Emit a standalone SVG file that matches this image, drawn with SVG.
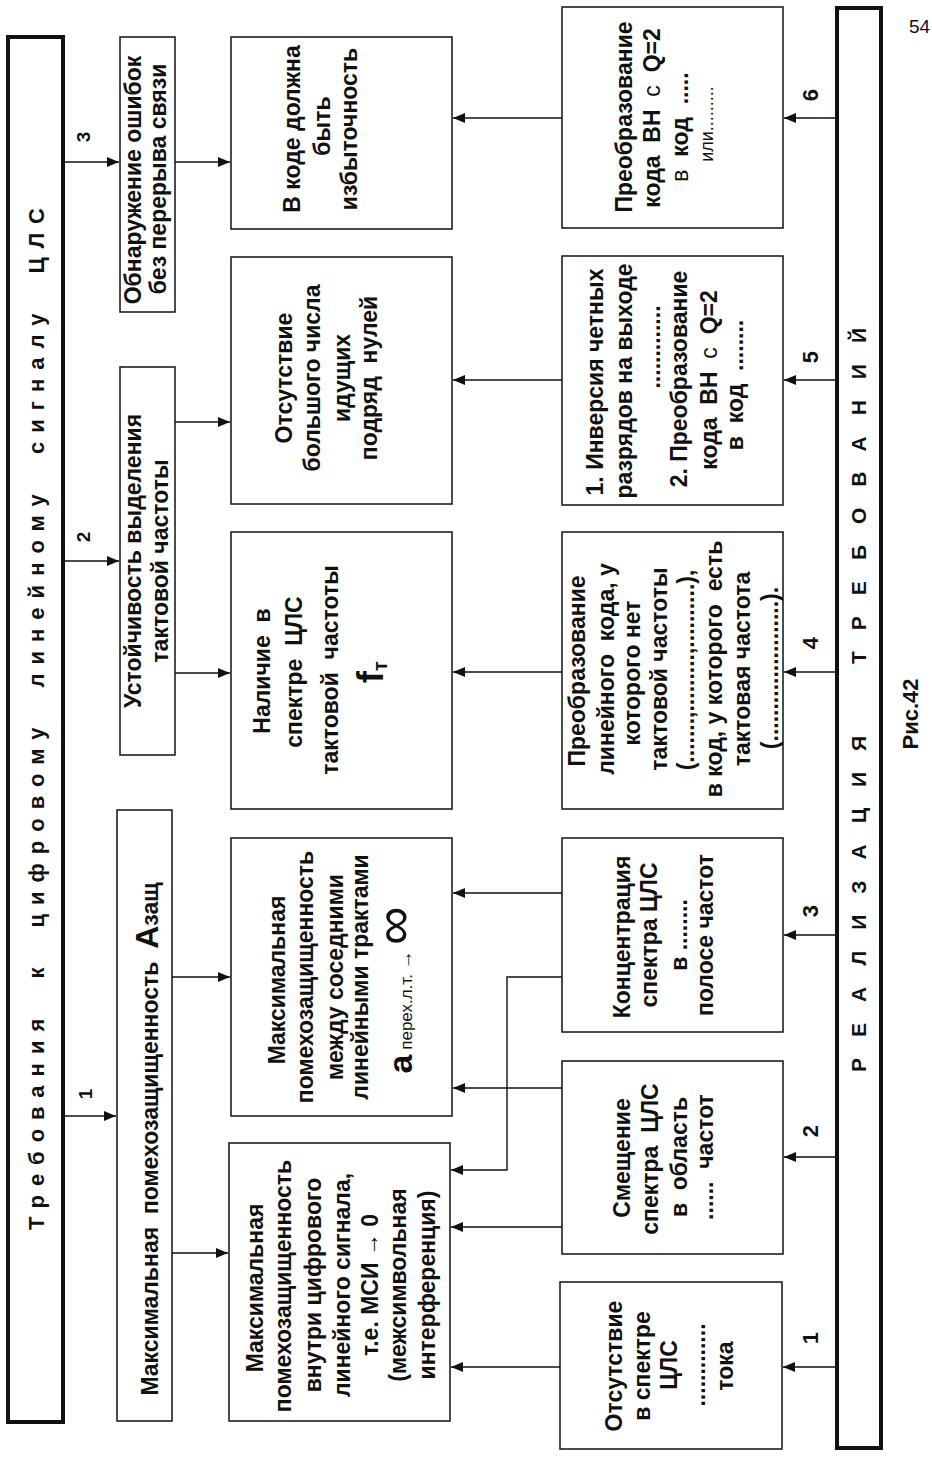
<svg xmlns="http://www.w3.org/2000/svg" width="932" height="1460" viewBox="0 0 932 1460">
<defs>
<marker id="ah" markerUnits="userSpaceOnUse" markerWidth="13" markerHeight="10" refX="12" refY="5" orient="auto">
<path d="M0,0 L12,5 L0,10 z" fill="#111"/>
</marker>
<style>
.box{fill:#fff;stroke:#111;stroke-width:1.5}
.ban{fill:#fff;stroke:#111;stroke-width:4}
.t{font-family:"Liberation Sans",Arial,sans-serif;font-size:23px;font-weight:bold;fill:#111;text-anchor:middle;white-space:pre}
.r{font-weight:normal}
.n{font-family:"Liberation Sans",Arial,sans-serif;font-size:19px;font-weight:bold;fill:#111;text-anchor:middle}
.m{font-size:22px}
.c{fill:none;stroke:#111;stroke-width:1.4;marker-end:url(#ah)}
</style>
</defs>
<rect width="932" height="1460" fill="#fff"/>

<g id="connectors">
<line class="c" x1="63" y1="162" x2="119" y2="162"/>
<line class="c" x1="63" y1="561" x2="119" y2="561"/>
<line class="c" x1="63" y1="1116" x2="116" y2="1116"/>
<line class="c" x1="175" y1="162" x2="230" y2="162"/>
<line class="c" x1="175" y1="422" x2="230" y2="422"/>
<line class="c" x1="175" y1="673" x2="230" y2="673"/>
<line class="c" x1="172" y1="977" x2="230" y2="977"/>
<line class="c" x1="172" y1="1253" x2="228" y2="1253"/>
<line class="c" x1="562" y1="118" x2="453" y2="118"/>
<line class="c" x1="562" y1="380" x2="453" y2="380"/>
<line class="c" x1="562" y1="672" x2="453" y2="672"/>
<line class="c" x1="562" y1="893" x2="453" y2="893"/>
<polyline class="c" points="562,977 507,977 507,1170 451,1170"/>
<line class="c" x1="562" y1="1088" x2="453" y2="1088"/>
<line class="c" x1="562" y1="1227" x2="451" y2="1227"/>
<line class="c" x1="560" y1="1367" x2="451" y2="1367"/>
<line class="c" x1="837" y1="118" x2="784" y2="118"/>
<line class="c" x1="837" y1="380" x2="784" y2="380"/>
<line class="c" x1="837" y1="672" x2="784" y2="672"/>
<line class="c" x1="837" y1="935" x2="784" y2="935"/>
<line class="c" x1="837" y1="1157" x2="784" y2="1157"/>
<line class="c" x1="837" y1="1367" x2="783" y2="1367"/>
<g transform="rotate(-90)">
<text class="n" x="-137" y="90">3</text>
<text class="n" x="-537" y="90">2</text>
<text class="n" x="-1094" y="92">1</text>
<text class="n m" x="-95" y="818">6</text>
<text class="n m" x="-357" y="818">5</text>
<text class="n m" x="-643" y="818">4</text>
<text class="n m" x="-911" y="818">3</text>
<text class="n m" x="-1131" y="818">2</text>
<text class="n m" x="-1338" y="818">1</text>
</g>
</g>

<g id="banner-top">
<rect class="ban" x="8" y="37" width="55" height="1385"/>
<g transform="rotate(-90)">
<text class="t" x="-719" y="44" style="font-size:22px;word-spacing:16px" textLength="1022" lengthAdjust="spacing">Требования к цифровому линейному сигналу ЦЛС</text>
</g>
</g>

<g id="req3">
<rect class="box" x="120" y="37" width="55" height="275"/>
<g transform="rotate(-90)">
<text class="t" x="-180" y="141">Обнаружение ошибок</text>
<text class="t" x="-179" y="166">без перерыва связи</text>
</g>
</g>

<g id="req2">
<rect class="box" x="120" y="367" width="55" height="388"/>
<g transform="rotate(-90)">
<text class="t" x="-561" y="141">Устойчивость выделения</text>
<text class="t" x="-561" y="168">тактовой частоты</text>
</g>
</g>

<g id="req1">
<rect class="box" x="117" y="810" width="55" height="611"/>
<g transform="rotate(-90)">
<text class="t" x="-1139" y="158">Максимальная  помехозащищенность  <tspan style="font-size:32px">А</tspan>защ</text>
</g>
</g>

<g id="cond-redund">
<rect class="box" x="231" y="37" width="221" height="192"/>
<g transform="rotate(-90)">
<text class="t" x="-129" y="300">В коде должна</text>
<text class="t" x="-126" y="330">быть</text>
<text class="t" x="-129" y="357">избыточность</text>
</g>
</g>

<g id="cond-zeros">
<rect class="box" x="231" y="257" width="221" height="247"/>
<g transform="rotate(-90)">
<text class="t" x="-378" y="292">Отсутствие</text>
<text class="t" x="-378" y="320">большого числа</text>
<text class="t" x="-378" y="350">идущих</text>
<text class="t" x="-378" y="377">подряд  нулей</text>
</g>
</g>

<g id="cond-clock">
<rect class="box" x="231" y="532" width="221" height="277"/>
<g transform="rotate(-90)">
<text class="t" x="-671" y="270">Наличие  в</text>
<text class="t" x="-672" y="302">спектре  ЦЛС</text>
<text class="t" x="-670" y="338">тактовой  частоты</text>
<text class="t" x="-672" y="383"><tspan style="font-size:36px">f</tspan><tspan style="font-size:20px" dy="4">т</tspan></text>
</g>
</g>

<g id="cond-crosstalk">
<rect class="box" x="231" y="838" width="221" height="278"/>
<g transform="rotate(-90)">
<text class="t" x="-980" y="285">Максимальная</text>
<text class="t" x="-977" y="313">помехозащищенность</text>
<text class="t" x="-977" y="343">между соседними</text>
<text class="t" x="-977" y="368">линейными трактами</text>
<text class="t" x="-990" y="412"><tspan style="font-size:34px">а</tspan><tspan class="r" style="font-size:17px"> перех.л.т. </tspan><tspan class="r" style="font-size:19px">→ </tspan><tspan class="r" style="font-size:54px">∞</tspan></text>
</g>
</g>

<g id="cond-isi">
<rect class="box" x="229" y="1143" width="221" height="278"/>
<g transform="rotate(-90)">
<text class="t" x="-1288" y="263">Максимальная</text>
<text class="t" x="-1286" y="291">помехозащищенность</text>
<text class="t" x="-1285" y="321">внутри цифрового</text>
<text class="t" x="-1285" y="350">линейного сигнала,</text>
<text class="t" x="-1285" y="378">т.е. МСИ → 0</text>
<text class="t" x="-1285" y="406">(межсимвольная</text>
<text class="t" x="-1285" y="435">интерференция)</text>
</g>
</g>

<g id="impl6">
<rect class="box" x="562" y="7" width="221" height="221"/>
<g transform="rotate(-90)">
<text class="t" x="-117" y="632">Преобразование</text>
<text class="t" x="-118" y="660">кода  ВН  <tspan class="r">с</tspan>  Q=2</text>
<text class="t" x="-127" y="688"><tspan class="r">в</tspan>  код  .....</text>
<text class="t r" x="-124" y="713" style="font-size:18px">или.........</text>
</g>
</g>

<g id="impl5">
<rect class="box" x="562" y="256" width="221" height="249"/>
<g transform="rotate(-90)">
<text class="t" x="-382" y="603">1. Инверсия четных</text>
<text class="t" x="-381" y="632">разрядов на выходе</text>
<text class="t" x="-347" y="660">.............</text>
<text class="t" x="-379" y="687">2. Преобразование</text>
<text class="t" x="-380" y="717">кода  ВН  <tspan class="r">с</tspan>  Q=2</text>
<text class="t" x="-385" y="743">в  код  ........</text>
</g>
</g>

<g id="impl4">
<rect class="box" x="562" y="532" width="221" height="277"/>
<g transform="rotate(-90)">
<text class="t" x="-671" y="585">Преобразование</text>
<text class="t" x="-669" y="614">линейного  кода, у</text>
<text class="t" x="-673" y="640">которого нет</text>
<text class="t" x="-669" y="667">тактовой частоты</text>
<text class="t" x="-670" y="694">(.......,.........,..........),</text>
<text class="t" x="-669" y="722">в код, у которого  есть</text>
<text class="t" x="-669" y="750">тактовая частота</text>
<text class="t" x="-668" y="778">(......................).</text>
</g>
</g>

<g id="impl3">
<rect class="box" x="562" y="838" width="221" height="194"/>
<g transform="rotate(-90)">
<text class="t" x="-937" y="630">Концентрация</text>
<text class="t" x="-935" y="657">спектра ЦЛС</text>
<text class="t" x="-935" y="687">в ........</text>
<text class="t" x="-935" y="713">полосе частот</text>
</g>
</g>

<g id="impl2">
<rect class="box" x="562" y="1061" width="221" height="193"/>
<g transform="rotate(-90)">
<text class="t" x="-1158" y="630">Смещение</text>
<text class="t" x="-1159" y="658">спектра  ЦЛС</text>
<text class="t" x="-1157" y="687">в  область</text>
<text class="t" x="-1157" y="713">......  частот</text>
</g>
</g>

<g id="impl1">
<rect class="box" x="560" y="1282" width="222" height="167"/>
<g transform="rotate(-90)">
<text class="t" x="-1366" y="622">Отсутствие</text>
<text class="t" x="-1366" y="650">в спектре</text>
<text class="t" x="-1365" y="677">ЦЛС</text>
<text class="t" x="-1365" y="705">.............</text>
<text class="t" x="-1366" y="733">тока</text>
</g>
</g>

<g id="banner-right">
<rect class="ban" x="837" y="8" width="44" height="1440"/>
<g transform="rotate(-90)">
<text class="t" x="-700" y="866" style="font-size:21px;word-spacing:24px" textLength="744" lengthAdjust="spacing">РЕАЛИЗАЦИЯ ТРЕБОВАНИЙ</text>
</g>
</g>

<g id="caption">
<g transform="rotate(-90)">
<text class="t" x="-714" y="918" style="font-size:22px">Рис.42</text>
</g>
<text x="909" y="33" style="font-family:'Liberation Sans',Arial,sans-serif;font-size:19px;fill:#111">54</text>
</g>
</svg>
